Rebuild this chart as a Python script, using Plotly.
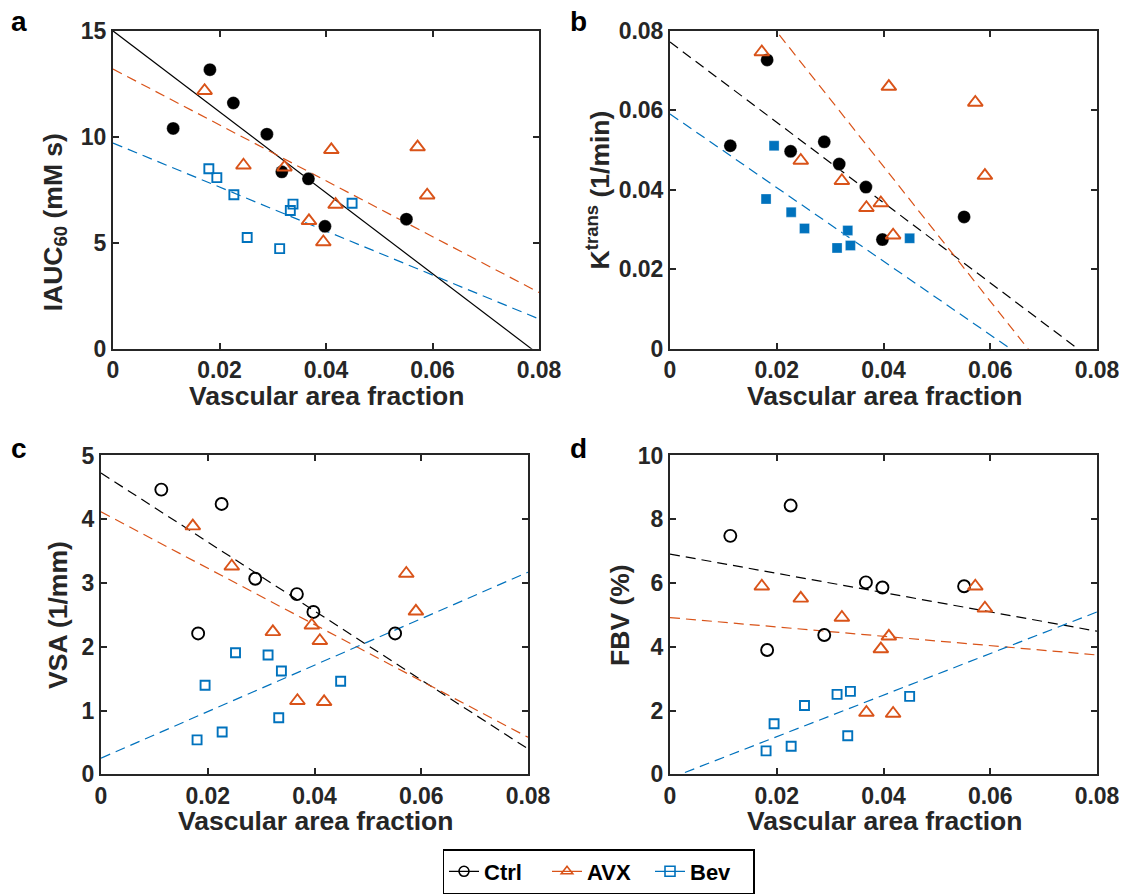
import plotly.graph_objects as go

# vascular area fraction per animal (x values)
ctrl_vaf = [0.0113, 0.0182, 0.0226, 0.0289, 0.0317, 0.0367, 0.0398, 0.0551]
avx_vaf = [0.0172, 0.0245, 0.0322, 0.0368, 0.0395, 0.0410, 0.0418, 0.0572, 0.0590]
bev_vaf = [0.0180, 0.0195, 0.0227, 0.0252, 0.0313, 0.0333, 0.0338, 0.0449]

# a: IAUC60
ctrl_iauc = [10.40, 13.17, 11.60, 10.13, 8.35, 8.02, 5.78, 6.12]
avx_iauc = [12.18, 8.66, 8.57, 6.04, 5.04, 9.39, 6.81, 9.52, 7.25]
bev_iauc = [8.50, 8.08, 7.27, 5.25, 4.73, 6.53, 6.83, 6.87]

# b: Ktrans
ctrl_ktrans = [0.0511, 0.0727, 0.0497, 0.0521, 0.0465, 0.0407, 0.0275, 0.0332]
avx_ktrans = [0.0747, 0.0474, 0.0423, 0.0355, 0.0367, 0.0660, 0.0286, 0.0620, 0.0436]
bev_ktrans = [0.0377, 0.0511, 0.0344, 0.0303, 0.0254, 0.0298, 0.0260, 0.0278]

# c: VSA
ctrl_vsa = [4.465, 2.21, 4.24, 3.067, None, 2.827, 2.547, 2.21]
avx_vsa = [3.893, 3.264, 2.235, 1.154, 2.339, 2.095, 1.138, 3.15, 2.557]
bev_vsa = [0.541, 1.398, 0.665, 1.907, 1.871, 0.889, 1.622, 1.46]

# d: FBV
ctrl_fbv = [7.48, 3.90, 8.43, 4.37, None, 6.02, 5.86, 5.90]
avx_fbv = [5.90, 5.52, 4.92, 1.94, 3.93, 4.33, 1.91, 5.90, 5.21]
bev_fbv = [0.737, 1.587, 0.882, 2.158, 2.51, 1.214, 2.604, 2.448]

# fitted lines, values at x = 0 and x = 0.08
fit_x = [0, 0.08]
fit_a = {'ctrl': [15.0, -0.27], 'avx': [13.2, 2.66], 'bev': [9.71, 1.41]}
fit_b = {'ctrl': [0.0772, -0.0036], 'avx': [0.1137, -0.0219], 'bev': [0.0591, -0.015]}
fit_c = {'ctrl': [4.725, 0.40], 'avx': [4.116, 0.582], 'bev': [0.255, 3.17]}
fit_d = {'ctrl': [6.91, 4.49], 'avx': [4.917, 3.745], 'bev': [-0.121, 5.093]}

BLACK = 'rgb(0,0,0)'
ORANGE = 'rgb(217,83,25)'
BLUE = 'rgb(0,114,189)'
TXT = '#262626'
FONT = 'Liberation Sans'
DASH = '10px,6px'

# page has an 8px body margin; work in window pixels and convert
OFF = 8
W, H = 1127 - OFF, 894 - OFF


def fx(px):
    return (px - OFF) / W


def fy(py):
    return 1 - (py - OFF) / H


fig = go.Figure()


def add_points(ax, x, y, symbol, color, size, filled):
    fig.add_trace(go.Scatter(
        x=x, y=y, mode='markers', xaxis='x' + ax, yaxis='y' + ax,
        showlegend=False, hoverinfo='x+y',
        marker=dict(symbol=symbol, size=size, color=color,
                    line=dict(color=color if not filled else 'rgba(255,255,255,0.6)',
                              width=1.9 if not filled else 0.5))))


def add_fit(ax, y, color, dash):
    fig.add_trace(go.Scatter(
        x=fit_x, y=y, mode='lines', xaxis='x' + ax, yaxis='y' + ax,
        showlegend=False, hoverinfo='skip',
        line=dict(color=color, width=1.2, dash=dash)))


# panel a
add_fit('', fit_a['ctrl'], BLACK, 'solid')
add_fit('', fit_a['avx'], ORANGE, DASH)
add_fit('', fit_a['bev'], BLUE, DASH)
add_points('', ctrl_vaf, ctrl_iauc, 'circle', BLACK, 13, True)
add_points('', avx_vaf, avx_iauc, 'triangle-up-open', ORANGE, 13, False)
add_points('', bev_vaf, bev_iauc, 'square-open', BLUE, 9, False)

# panel b
add_fit('2', fit_b['ctrl'], BLACK, DASH)
add_fit('2', fit_b['avx'], ORANGE, DASH)
add_fit('2', fit_b['bev'], BLUE, DASH)
add_points('2', ctrl_vaf, ctrl_ktrans, 'circle', BLACK, 13, True)
add_points('2', avx_vaf, avx_ktrans, 'triangle-up-open', ORANGE, 13, False)
add_points('2', bev_vaf, bev_ktrans, 'square', BLUE, 10, True)

# panel c
add_fit('3', fit_c['ctrl'], BLACK, DASH)
add_fit('3', fit_c['avx'], ORANGE, DASH)
add_fit('3', fit_c['bev'], BLUE, DASH)
add_points('3', ctrl_vaf, ctrl_vsa, 'circle-open', BLACK, 12, False)
add_points('3', avx_vaf, avx_vsa, 'triangle-up-open', ORANGE, 13, False)
add_points('3', bev_vaf, bev_vsa, 'square-open', BLUE, 9, False)

# panel d
add_fit('4', fit_d['ctrl'], BLACK, DASH)
add_fit('4', fit_d['avx'], ORANGE, DASH)
add_fit('4', fit_d['bev'], BLUE, DASH)
add_points('4', ctrl_vaf, ctrl_fbv, 'circle-open', BLACK, 12, False)
add_points('4', avx_vaf, avx_fbv, 'triangle-up-open', ORANGE, 13, False)
add_points('4', bev_vaf, bev_fbv, 'square-open', BLUE, 9, False)

# legend entries
for name, color, sym in [('Ctrl', BLACK, 'circle-open'),
                         ('AVX', ORANGE, 'triangle-up-open'),
                         ('Bev', BLUE, 'square-open')]:
    fig.add_trace(go.Scatter(
        x=[None], y=[None], mode='lines+markers', name=name,
        line=dict(color=color, width=1.3),
        marker=dict(symbol=sym, size=10, color=color, line=dict(width=1.6, color=color))))

tick_font = dict(family=FONT, size=23, color=TXT, weight='bold')


def xaxis(left, right, anchor):
    return dict(domain=[fx(left), fx(right)], anchor=anchor, range=[0, 0.08],
                tickvals=[0, 0.02, 0.04, 0.06, 0.08],
                ticktext=['0', '0.02', '0.04', '0.06', '0.08'],
                ticks='inside', ticklen=6, tickwidth=1.5, tickcolor=TXT,
                showline=True, linecolor=TXT, linewidth=2, mirror='ticks',
                showgrid=False, zeroline=False, tickfont=tick_font, automargin=False)


def yaxis(top, bottom, anchor, rng, dt):
    return dict(domain=[fy(bottom), fy(top)], anchor=anchor, range=rng, dtick=dt,
                ticks='inside', ticklen=6, tickwidth=1.5, tickcolor=TXT,
                showline=True, linecolor=TXT, linewidth=2, mirror='ticks',
                showgrid=False, zeroline=False, tickfont=tick_font, automargin=False)


fig.update_layout(
    width=W, height=H,
    margin=dict(l=0, r=0, t=0, b=0),
    paper_bgcolor='white', plot_bgcolor='white',
    xaxis=xaxis(113, 539, 'y'),
    yaxis=yaxis(31, 350, 'x', [0, 15], 5),
    xaxis2=xaxis(670, 1097, 'y2'),
    yaxis2=yaxis(31, 350, 'x2', [0, 0.08], 0.02),
    xaxis3=xaxis(101, 528, 'y3'),
    yaxis3=yaxis(457, 777, 'x3', [0, 5], 1),
    xaxis4=xaxis(670, 1097, 'y4'),
    yaxis4=yaxis(457, 777, 'x4', [0, 10], 2),
    legend=dict(orientation='h', x=fx(598.5), xanchor='center', y=fy(852), yanchor='top',
                bordercolor='black', borderwidth=1.5, bgcolor='white',
                font=dict(family=FONT, size=22, color='black', weight='bold'),
                itemwidth=30, entrywidth=58, tracegroupgap=0),
)

title_font = dict(family=FONT, size=26.5, color=TXT, weight='bold')


def label(text, x, y, angle=0):
    fig.add_annotation(text=text, x=fx(x), y=fy(y), xref='paper', yref='paper',
                       xanchor='center', yanchor='middle', showarrow=False,
                       textangle=angle, font=title_font)


# axis titles
for xc, yc in [(326, 397), (884, 397), (315, 824), (884, 824)]:
    label('Vascular area fraction', xc, yc)
label('IAUC<sub>60</sub> (mM s)', 55, 223, -90)
label('K<sup>trans</sup> (1/min)', 598, 191, -90)
label('VSA (1/mm)', 58, 617, -90)
label('FBV (%)', 620, 617, -90)

# panel letters
for letter, x, y in [('a', 19, 22), ('b', 578, 22), ('c', 19, 450), ('d', 578, 450)]:
    fig.add_annotation(text=letter, x=fx(x), y=fy(y), xref='paper', yref='paper',
                       xanchor='center', yanchor='middle', showarrow=False,
                       font=dict(family=FONT, size=28, color='black', weight='bold'))

fig.write_html("out.html")
